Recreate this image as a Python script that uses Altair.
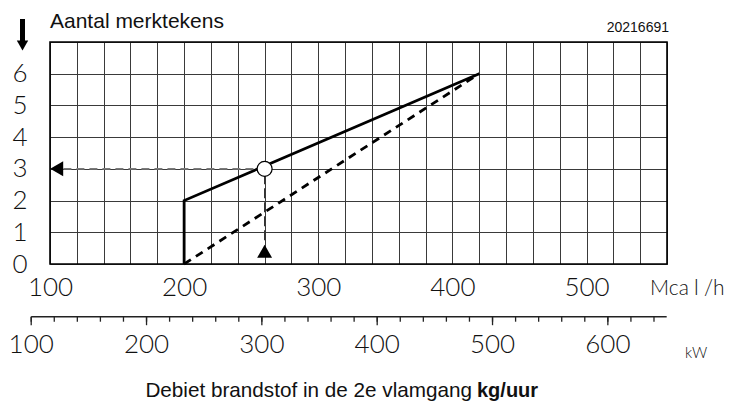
import altair as alt
import pandas as pd

# ---- data ----
x_grid = list(range(100, 561, 20))          # Mcal/h grid lines
y_grid = [0, 1, 2, 3, 4, 5, 6, 7]           # grid rows ("Aantal merktekens")
solid_x = [200, 200, 420]
solid_y = [0, 2, 6]
dashed_x = [200, 420]
dashed_y = [0, 6]
read_x = [260]
read_y = [3]
guide_h_x = [110, 260]      # horizontal reading line at y = 3
guide_h_y = [3, 3]
guide_v_x = [260, 260]      # vertical reading line at x = 260
guide_v_y = [0.75, 3]
arrow_left_x = [105]
arrow_left_y = [3]
arrow_up_x = [260]
arrow_up_y = [0.4]
kw_minor = list(range(100, 641, 20))
kw_major = [100, 200, 300, 400, 500, 600]
kw_axis_end = [651]
KW_PER_MCAL = 1.163

W, H = 617, 222
FONT = "Lato"
FW = 300
FS = 26
xs = alt.Scale(domain=[100, 560], nice=False, zero=False)
ys = alt.Scale(domain=[0, 7], nice=False, zero=False)

one = pd.DataFrame({"a": [0]})

x_axis = alt.Axis(values=x_grid, grid=True, gridColor="#3a3a3a", gridWidth=1,
                  ticks=False, tickSize=0, domain=False, title=None,
                  labelExpr="datum.value % 100 == 0 ? datum.label : ''",
                  labelFont=FONT, labelFontSize=FS, labelFontWeight=FW,
                  labelColor="#111", labelPadding=31, labelBaseline="alphabetic",
                  labelFlush=False, labelOverlap=False, format="d")
y_axis = alt.Axis(values=y_grid, grid=True, gridColor="#3a3a3a", gridWidth=1,
                  ticks=False, tickSize=0, domain=False, title=None,
                  labelExpr="datum.value < 7 ? datum.label : ''",
                  labelFont=FONT, labelFontSize=FS, labelFontWeight=FW,
                  labelColor="#111", labelPadding=23, labelBaseline="middle",
                  labelFlush=False, labelOverlap=False, format="d")


def X(f):
    return alt.X(f, scale=xs, axis=x_axis)


def Y(f):
    return alt.Y(f, scale=ys, axis=y_axis)


solid_df = pd.DataFrame({"x": solid_x, "y": solid_y, "i": list(range(len(solid_x)))})
solid = alt.Chart(solid_df).mark_line(color="black", strokeWidth=2.8).encode(
    x=X("x:Q"), y=Y("y:Q"), order="i:Q")

dashed = alt.Chart(pd.DataFrame({"x": dashed_x, "y": dashed_y})).mark_line(
    color="black", strokeWidth=2.8, strokeDash=[8, 6]).encode(x=X("x:Q"), y=Y("y:Q"))

guide_h = alt.Chart(pd.DataFrame({"x": guide_h_x, "y": guide_h_y})).mark_line(
    color="#7a7a7a", strokeWidth=1.6, strokeDash=[8, 5]).encode(x=X("x:Q"), y=Y("y:Q"))

guide_v = alt.Chart(pd.DataFrame({"x": guide_v_x, "y": guide_v_y})).mark_line(
    color="#333", strokeWidth=1.2, strokeDash=[10, 4]).encode(x=X("x:Q"), y=Y("y:Q"))

circle = alt.Chart(pd.DataFrame({"x": read_x, "y": read_y})).mark_point(
    shape="circle", filled=True, fill="white", stroke="black", strokeWidth=1.2,
    size=225, opacity=1).encode(x=X("x:Q"), y=Y("y:Q"))

tri_left = alt.Chart(pd.DataFrame({"x": arrow_left_x, "y": arrow_left_y})).mark_point(
    shape="triangle-left", filled=True, color="black", size=225, opacity=1).encode(
    x=X("x:Q"), y=Y("y:Q"))

tri_up = alt.Chart(pd.DataFrame({"x": arrow_up_x, "y": arrow_up_y})).mark_point(
    shape="triangle-up", filled=True, color="black", size=225, opacity=1).encode(
    x=X("x:Q"), y=Y("y:Q"))

border = alt.Chart(one).mark_rect(fill=None, stroke="black", strokeWidth=1.6).encode(
    x=alt.value(0), x2=alt.value(W), y=alt.value(0), y2=alt.value(H))

# ---- secondary kW axis ----
KW_LINE_Y = 274.7
kw_line = alt.Chart(pd.DataFrame({"kw": [kw_minor[0]], "kw2": kw_axis_end})).transform_calculate(
    m=f"datum.kw / {KW_PER_MCAL}", m2=f"datum.kw2 / {KW_PER_MCAL}").mark_rule(
    color="#222", strokeWidth=1.4).encode(x=X("m:Q"), x2="m2:Q", y=alt.value(KW_LINE_Y))

kw_minor_ticks = alt.Chart(pd.DataFrame({"kw": kw_minor})).transform_calculate(
    m=f"datum.kw / {KW_PER_MCAL}").mark_rule(color="#222", strokeWidth=1.3).encode(
    x=X("m:Q"), y=alt.value(KW_LINE_Y), y2=alt.value(KW_LINE_Y + 5))

kw_major_ticks = alt.Chart(pd.DataFrame({"kw": kw_major})).transform_calculate(
    m=f"datum.kw / {KW_PER_MCAL}").mark_rule(color="#222", strokeWidth=1.3).encode(
    x=X("m:Q"), y=alt.value(KW_LINE_Y), y2=alt.value(KW_LINE_Y + 8.5))

kw_labels = alt.Chart(pd.DataFrame({"kw": kw_major})).transform_calculate(
    m=f"datum.kw / {KW_PER_MCAL}").mark_text(
    font=FONT, fontSize=FS, fontWeight=FW, color="#111", align="center",
    baseline="alphabetic").encode(x=X("m:Q"), y=alt.value(310.7), text="kw:Q")


# ---- texts ----
def label(txt, x, y, size, align="left", weight="normal", font="Liberation Sans", color="#111"):
    return alt.Chart(one).mark_text(text=txt, font=font, fontSize=size, fontWeight=weight,
                                    align=align, baseline="alphabetic", color=color).encode(
        x=alt.value(x), y=alt.value(y))


title = label("Aantal merktekens", 0, -14, 21)
code = label("20216691", 619, -10, 14, align="right")
mcal_unit = label("Mca\u2005l\u2005/h", 600, 253, 21, font=FONT, weight=FW)
kw_unit = label("kW", 635, 316, 15, font=FONT, weight=FW)
bottom_a = label("Debiet brandstof in de 2e vlamgang", 422, 355, 20.7, align="right")
bottom_b = label("kg/uur", 427, 355, 20, weight="bold")

arrow_shaft = alt.Chart(one).mark_rule(color="black", strokeWidth=5).encode(
    x=alt.value(-27.5), y=alt.value(-23), y2=alt.value(0))
arrow_head = alt.Chart(one).mark_point(shape="triangle-down", filled=True, color="black",
                                       size=130, opacity=1).encode(
    x=alt.value(-27.5), y=alt.value(3.5))

chart = alt.layer(
    solid, dashed, guide_h, guide_v, circle, tri_left, tri_up, border,
    kw_line, kw_minor_ticks, kw_major_ticks, kw_labels,
    title, code, mcal_unit, kw_unit, bottom_a, bottom_b, arrow_shaft, arrow_head,
).properties(
    width=W, height=H,
    autosize=alt.AutoSizeParams(type="none"),
    padding={"left": 42, "top": 34, "right": 58, "bottom": 139},
).configure_view(stroke=None).configure(background="white")

chart.save("out.html", embed_options={"renderer": "svg", "actions": False})
